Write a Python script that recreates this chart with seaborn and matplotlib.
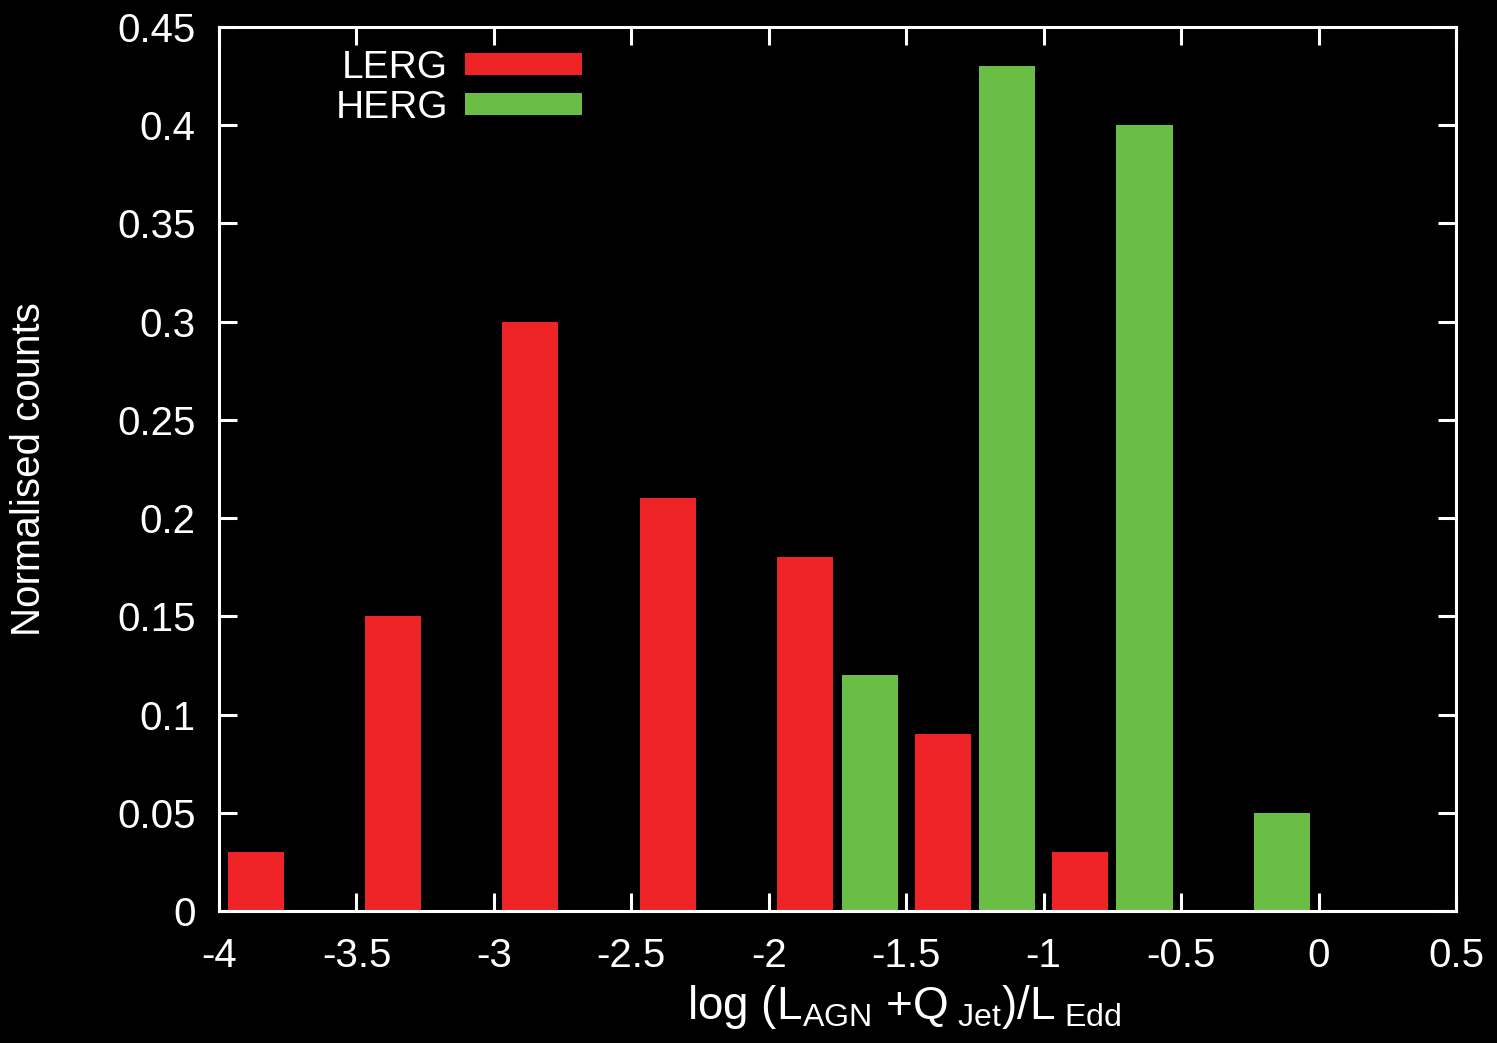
import matplotlib
matplotlib.use("Agg")
import matplotlib.pyplot as plt
import seaborn as sns
import pandas as pd

# ----- data -----
lerg_bins = [-3.75, -3.25, -2.75, -2.25, -1.75, -1.25, -0.75]
lerg_counts = [0.03, 0.15, 0.30, 0.21, 0.18, 0.09, 0.03]
herg_bins = [-1.75, -1.25, -0.75, -0.25]
herg_counts = [0.12, 0.43, 0.40, 0.05]

x_ticks = [-4, -3.5, -3, -2.5, -2, -1.5, -1, -0.5, 0, 0.5]
x_ticklabels = ['-4', '-3.5', '-3', '-2.5', '-2', '-1.5', '-1', '-0.5', '0', '0.5']
y_ticks = [0, 0.05, 0.1, 0.15, 0.2, 0.25, 0.3, 0.35, 0.4, 0.45]
y_ticklabels = ['0', '0.05', '0.1', '0.15', '0.2', '0.25', '0.3', '0.35', '0.4', '0.45']

df = pd.concat([
    pd.DataFrame({'bin': lerg_bins, 'frac': lerg_counts, 'type': 'LERG'}),
    pd.DataFrame({'bin': herg_bins, 'frac': herg_counts, 'type': 'HERG'}),
], ignore_index=True)

palette = {'LERG': '#ED2326', 'HERG': '#6ABD45'}

# ----- style -----
sns.set_style('ticks')
plt.rcParams['font.family'] = ['Liberation Sans', 'DejaVu Sans']
plt.rcParams['mathtext.fontset'] = 'custom'
plt.rcParams['mathtext.rm'] = 'Liberation Sans'
plt.rcParams['mathtext.it'] = 'Liberation Sans'

fig = plt.figure(figsize=(14.97, 10.43), dpi=100, facecolor='black')
ax = fig.add_axes([0.1463, 0.1266, 0.8263, 0.8475])
ax.set_facecolor('black')

sns.barplot(data=df, x='bin', y='frac', hue='type', hue_order=['LERG', 'HERG'],
            palette=palette, native_scale=True, width=0.936, gap=0.128,
            saturation=1, errorbar=None, linewidth=0, ax=ax)

ax.set_xlim(-4, 0.5)
ax.set_ylim(0, 0.45)
ax.set_xticks(x_ticks, x_ticklabels)
ax.set_yticks(y_ticks, y_ticklabels)

for sp in ax.spines.values():
    sp.set_visible(True)
    sp.set_color('white')
    sp.set_linewidth(2.2)

ax.tick_params(direction='in', top=True, right=True, length=13, width=2.2,
               colors='white', labelsize=29)
ax.tick_params(axis='x', pad=19)
ax.tick_params(axis='y', pad=17)

ax.set_ylabel('Normalised counts', color='white', fontsize=29)
ax.yaxis.set_label_coords(-0.138, 0.5)
ax.set_xlabel(r'log (L$_{\rm AGN}$ +Q$_{\ \rm Jet}$)/L$_{\ \rm Edd}$',
              color='white', fontsize=33)
ax.xaxis.set_label_coords(0.554, -0.082)
ax.xaxis.label.set_va('top')

handles, labels = ax.get_legend_handles_labels()
leg = ax.legend(handles, labels, loc='upper left', bbox_to_anchor=(0.094, 0.974),
                frameon=False, markerfirst=False, fontsize=28,
                handlelength=3.0, handleheight=0.5, handletextpad=0.45,
                labelspacing=0.1, borderpad=0, borderaxespad=0)
for t in leg.get_texts():
    t.set_color('white')

fig.savefig('out.png', dpi=100, facecolor='black')
